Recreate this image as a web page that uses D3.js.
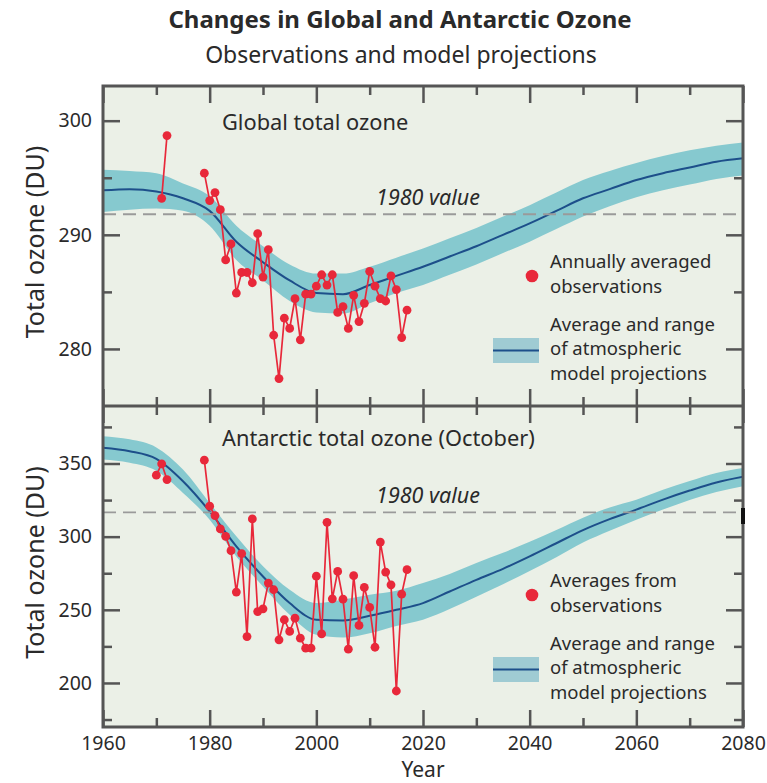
<!DOCTYPE html>
<html>
<head>
<meta charset="utf-8">
<script src="https://cdn.jsdelivr.net/npm/d3@7"></script>
<style>
  body { margin: 0; background: #fff; }
  svg text { font-family: "Noto Sans", "Open Sans", sans-serif; fill: #2a2a2a; }
</style>
</head>
<body>
<div id="chart"></div>
<script>
// ---- data ----
var globalObsYears = [1971, 1972, 1979, 1980, 1981, 1982, 1983, 1984, 1985, 1986, 1987, 1988, 1989,
  1990, 1991, 1992, 1993, 1994, 1995, 1996, 1997, 1998, 1999, 2000, 2001, 2002, 2003, 2004, 2005,
  2006, 2007, 2008, 2009, 2010, 2011, 2012, 2013, 2014, 2015, 2016, 2017]
var globalObs = [293.2, 298.7, 295.4, 293.0, 293.7, 292.2, 287.8, 289.2, 284.9, 286.7, 286.7, 285.8, 290.1,
  286.3, 288.7, 281.2, 277.4, 282.7, 281.8, 284.4, 280.8, 284.8, 284.8, 285.5, 286.5, 285.6, 286.5, 283.2, 283.7,
  281.8, 284.7, 282.4, 284.0, 286.8, 285.5, 284.4, 284.2, 286.4, 285.2, 281.0, 283.4]

var antObsYears = [1970, 1971, 1972, 1979, 1980, 1981, 1982, 1983, 1984, 1985, 1986, 1987, 1988, 1989,
  1990, 1991, 1992, 1993, 1994, 1995, 1996, 1997, 1998, 1999, 2000, 2001, 2002, 2003, 2004, 2005,
  2006, 2007, 2008, 2009, 2010, 2011, 2012, 2013, 2014, 2015, 2016, 2017]
var antObs = [342.0, 349.8, 339.0, 352.3, 320.8, 314.4, 305.3, 300.2, 290.4, 262.1, 288.4, 231.7, 312.1, 248.8,
  250.7, 268.3, 263.7, 229.5, 243.2, 235.2, 244.3, 230.6, 223.8, 223.8, 273.0, 233.5, 309.8, 257.5, 276.2, 257.3,
  223.1, 273.3, 239.3, 265.3, 251.6, 224.4, 296.3, 275.8, 267.1, 194.5, 260.7, 277.4]

var modelYears = [1960, 1965, 1970, 1975, 1980, 1985, 1990, 1995, 2000, 2005, 2010, 2015, 2020,
  2025, 2030, 2035, 2040, 2045, 2050, 2055, 2060, 2065, 2070, 2075, 2080]
var globalMean = [293.9, 294.0, 293.8, 293.2, 292.1, 289.4, 287.6, 286.0, 284.9, 284.8, 285.6, 286.4, 287.2,
  288.1, 289.0, 290.0, 291.0, 292.1, 293.2, 294.0, 294.8, 295.4, 295.9, 296.4, 296.7]
var globalLow = [292.0, 292.2, 292.3, 292.1, 290.8, 287.8, 286.0, 284.2, 283.2, 283.1, 284.0, 284.9, 285.6,
  286.5, 287.4, 288.4, 289.4, 290.5, 291.6, 292.5, 293.3, 293.9, 294.4, 294.9, 295.2]
var globalHigh = [295.7, 295.6, 295.4, 294.5, 293.4, 290.8, 289.0, 287.4, 286.6, 286.6, 287.2, 288.0, 288.8,
  289.7, 290.6, 291.6, 292.6, 293.7, 294.8, 295.6, 296.3, 296.9, 297.4, 297.8, 298.1]

var antMean = [360.8, 358.4, 353.2, 337.9, 317.3, 293.4, 272.8, 254.6, 243.2, 242.7, 245.9, 250.0, 254.6,
  262.5, 270.5, 278.0, 286.5, 295.5, 304.5, 312.0, 318.5, 325.3, 331.5, 337.0, 340.9]
var antLow = [352.7, 350.5, 345.0, 329.9, 311.6, 286.5, 266.0, 246.6, 232.9, 231.0, 234.0, 239.0, 243.2,
  250.5, 259.0, 267.5, 276.5, 286.0, 296.0, 304.0, 311.6, 318.5, 325.0, 330.5, 334.5]
var antHigh = [368.7, 366.5, 361.0, 345.9, 323.0, 300.2, 279.7, 263.7, 254.6, 257.0, 260.3, 263.0, 268.3,
  274.5, 282.0, 289.0, 296.5, 304.5, 313.0, 320.0, 325.3, 332.0, 338.0, 343.5, 347.0]

var globalRef = 291.8
var antRef = 316.6

var xTicksMajor = [1960, 1980, 2000, 2020, 2040, 2060, 2080]
var xTicksMinor = [1970, 1990, 2010, 2030, 2050, 2070]
var globalTicksMajor = [280, 290, 300]
var globalTicksMinor = [285, 295]
var antTicksMajor = [200, 250, 300, 350]
var antTicksMinor = [175, 225, 275, 325, 375]

// ---- layout ----
var W = 767, H = 783
var fLeft = 103, fRight = 743, fTop = 86, fMid = 406, fBottom = 727

var svg = d3.select("#chart").append("svg")
  .attr("width", W).attr("height", H)

svg.append("text").attr("x", 400).attr("y", 28)
  .attr("text-anchor", "middle").style("font-weight", "bold").style("font-size", "24px")
  .text("Changes in Global and Antarctic Ozone")
svg.append("text").attr("x", 401).attr("y", 63)
  .attr("text-anchor", "middle").style("font-size", "23px")
  .text("Observations and model projections")

var x = d3.scaleLinear().domain([1960, 2080]).range([fLeft, fRight])

var panels = [
  {
    id: "g", y0: fTop, y1: fMid, domain: [275, 303.04],
    obsYears: globalObsYears, obs: globalObs, mean: globalMean, low: globalLow, high: globalHigh, ref: globalRef,
    major: globalTicksMajor, minor: globalTicksMinor,
    label: "Global total ozone", labelY: 130,
    refY: 205, legend: ["Annually averaged", "observations"], legY: 268
  },
  {
    id: "a", y0: fMid, y1: fBottom, domain: [169.9, 389.3],
    obsYears: antObsYears, obs: antObs, mean: antMean, low: antLow, high: antHigh, ref: antRef,
    major: antTicksMajor, minor: antTicksMinor,
    label: "Antarctic total ozone (October)", labelY: 446,
    refY: 503, legend: ["Averages from", "observations"], legY: 587
  }
]

panels.forEach(function(p) {
  var y = d3.scaleLinear().domain(p.domain).range([p.y1, p.y0])
  var g = svg.append("g")

  g.append("rect").attr("x", fLeft).attr("y", p.y0)
    .attr("width", fRight - fLeft).attr("height", p.y1 - p.y0)
    .attr("fill", "#ebf0e7")

  g.append("clipPath").attr("id", "clip-" + p.id)
    .append("rect").attr("x", fLeft).attr("y", p.y0)
    .attr("width", fRight - fLeft).attr("height", p.y1 - p.y0)

  var plot = g.append("g").attr("clip-path", "url(#clip-" + p.id + ")")

  var model = modelYears.map(function(yr, i) {
    return {year: yr, mean: p.mean[i], low: p.low[i], high: p.high[i]}
  })

  plot.append("path").datum(model)
    .attr("fill", "#86c9cf")
    .attr("d", d3.area().curve(d3.curveMonotoneX)
      .x(d => x(d.year)).y0(d => y(d.low)).y1(d => y(d.high)))

  plot.append("path").datum(model)
    .attr("fill", "none").attr("stroke", "#1d4f8a").attr("stroke-width", 2)
    .attr("d", d3.line().curve(d3.curveMonotoneX).x(d => x(d.year)).y(d => y(d.mean)))

  plot.append("line")
    .attr("x1", fLeft).attr("x2", fRight).attr("y1", y(p.ref)).attr("y2", y(p.ref))
    .attr("stroke", "#9a9a9a").attr("stroke-width", 1.8).attr("stroke-dasharray", "13,7")

  g.append("text").attr("x", 480).attr("y", p.refY).attr("text-anchor", "end")
    .style("font-style", "italic").style("font-size", "21.5px")
    .text("1980 value")

  // observations: break the line where years are missing
  var obs = p.obsYears.map((yr, i) => ({year: yr, value: p.obs[i]}))
  var segments = []
  obs.forEach(function(d, i) {
    if (i == 0 || d.year - obs[i - 1].year > 1) segments.push([])
    segments[segments.length - 1].push(d)
  })
  plot.selectAll(".obsline").data(segments).enter()
    .append("path")
    .attr("fill", "none").attr("stroke", "#e8283a").attr("stroke-width", 1.7)
    .attr("d", d3.line().x(d => x(d.year)).y(d => y(d.value)))
  plot.selectAll(".dot").data(obs).enter()
    .append("circle")
    .attr("cx", d => x(d.year)).attr("cy", d => y(d.value)).attr("r", 4.4)
    .attr("fill", "#e8283a")

  g.append("text").attr("x", 222).attr("y", p.labelY)
    .style("font-size", "21.8px").text(p.label)

  // legend
  g.append("circle").attr("cx", 532).attr("cy", p.legY + 8).attr("r", 6.3).attr("fill", "#e8283a")
  g.selectAll(".leg1").data(p.legend).enter().append("text")
    .attr("x", 550).attr("y", (d, i) => p.legY + i * 25)
    .style("font-size", "18.5px").text(d => d)

  var by = p.legY + 63
  g.append("rect").attr("x", 493).attr("y", by + 7).attr("width", 46).attr("height", 25)
    .attr("fill", "#9fcbd3")
  g.append("line").attr("x1", 493).attr("x2", 539).attr("y1", by + 19.5).attr("y2", by + 19.5)
    .attr("stroke", "#1d4f8a").attr("stroke-width", 2)
  g.selectAll(".leg2").data(["Average and range", "of atmospheric", "model projections"]).enter()
    .append("text")
    .attr("x", 550).attr("y", (d, i) => by + i * 24.3)
    .style("font-size", "18.5px").text(d => d)

  // y axes, ticks pointing inward on both sides
  g.append("g").attr("class", "axis").attr("transform", "translate(" + fLeft + ",0)")
    .call(d3.axisLeft(y).tickValues(p.major).tickSize(-17).tickPadding(11).tickFormat(d3.format("d")))
  g.append("g").attr("class", "axis").attr("transform", "translate(" + fLeft + ",0)")
    .call(d3.axisLeft(y).tickValues(p.minor).tickSize(-9).tickFormat(""))
  g.append("g").attr("class", "axis").attr("transform", "translate(" + fRight + ",0)")
    .call(d3.axisRight(y).tickValues(p.major).tickSize(-17).tickFormat(""))
  g.append("g").attr("class", "axis").attr("transform", "translate(" + fRight + ",0)")
    .call(d3.axisRight(y).tickValues(p.minor).tickSize(-9).tickFormat(""))

  g.append("text")
    .attr("transform", "translate(44," + ((p.y0 + p.y1) / 2 - 4) + ") rotate(-90)")
    .attr("text-anchor", "middle").style("font-size", "25px")
    .text("Total ozone (DU)")
})

// x ticks: top edge, divider (both ways), bottom edge
function xAxis(gen, yPos, size, vals, labels) {
  var a = gen(x).tickValues(vals).tickSize(size).tickPadding(9)
  if (!labels) a.tickFormat("")
  else a.tickFormat(d3.format("d"))
  svg.append("g").attr("class", "axis").attr("transform", "translate(0," + yPos + ")").call(a)
}
xAxis(d3.axisTop, fTop, -17, xTicksMajor, false)
xAxis(d3.axisTop, fTop, -9, xTicksMinor, false)
xAxis(d3.axisTop, fMid, 17, xTicksMajor, false)
xAxis(d3.axisTop, fMid, 9, xTicksMinor, false)
xAxis(d3.axisBottom, fMid, 17, xTicksMajor, false)
xAxis(d3.axisBottom, fMid, 9, xTicksMinor, false)
xAxis(d3.axisBottom, fBottom, -17, xTicksMajor, true)
xAxis(d3.axisBottom, fBottom, -9, xTicksMinor, false)

svg.selectAll(".axis .domain").remove()
svg.selectAll(".axis line").attr("stroke", "#555").attr("stroke-width", 2.5)
svg.selectAll(".axis text").style("font-size", "19.5px").attr("fill", "#333")
  .style("font-family", "'Noto Sans', sans-serif")

// frame
svg.append("rect").attr("x", fLeft).attr("y", fTop)
  .attr("width", fRight - fLeft).attr("height", fBottom - fTop)
  .attr("fill", "none").attr("stroke", "#555").attr("stroke-width", 3)
svg.append("line").attr("x1", fLeft).attr("x2", fRight).attr("y1", fMid).attr("y2", fMid)
  .attr("stroke", "#555").attr("stroke-width", 3)
// small dark mark on the right edge at the 1980 line
svg.append("rect").attr("x", fRight - 2).attr("y", 508).attr("width", 4).attr("height", 16).attr("fill", "#111")

svg.append("text").attr("x", 423).attr("y", 777).attr("text-anchor", "middle")
  .style("font-size", "21px").text("Year")
</script>
</body>
</html>
